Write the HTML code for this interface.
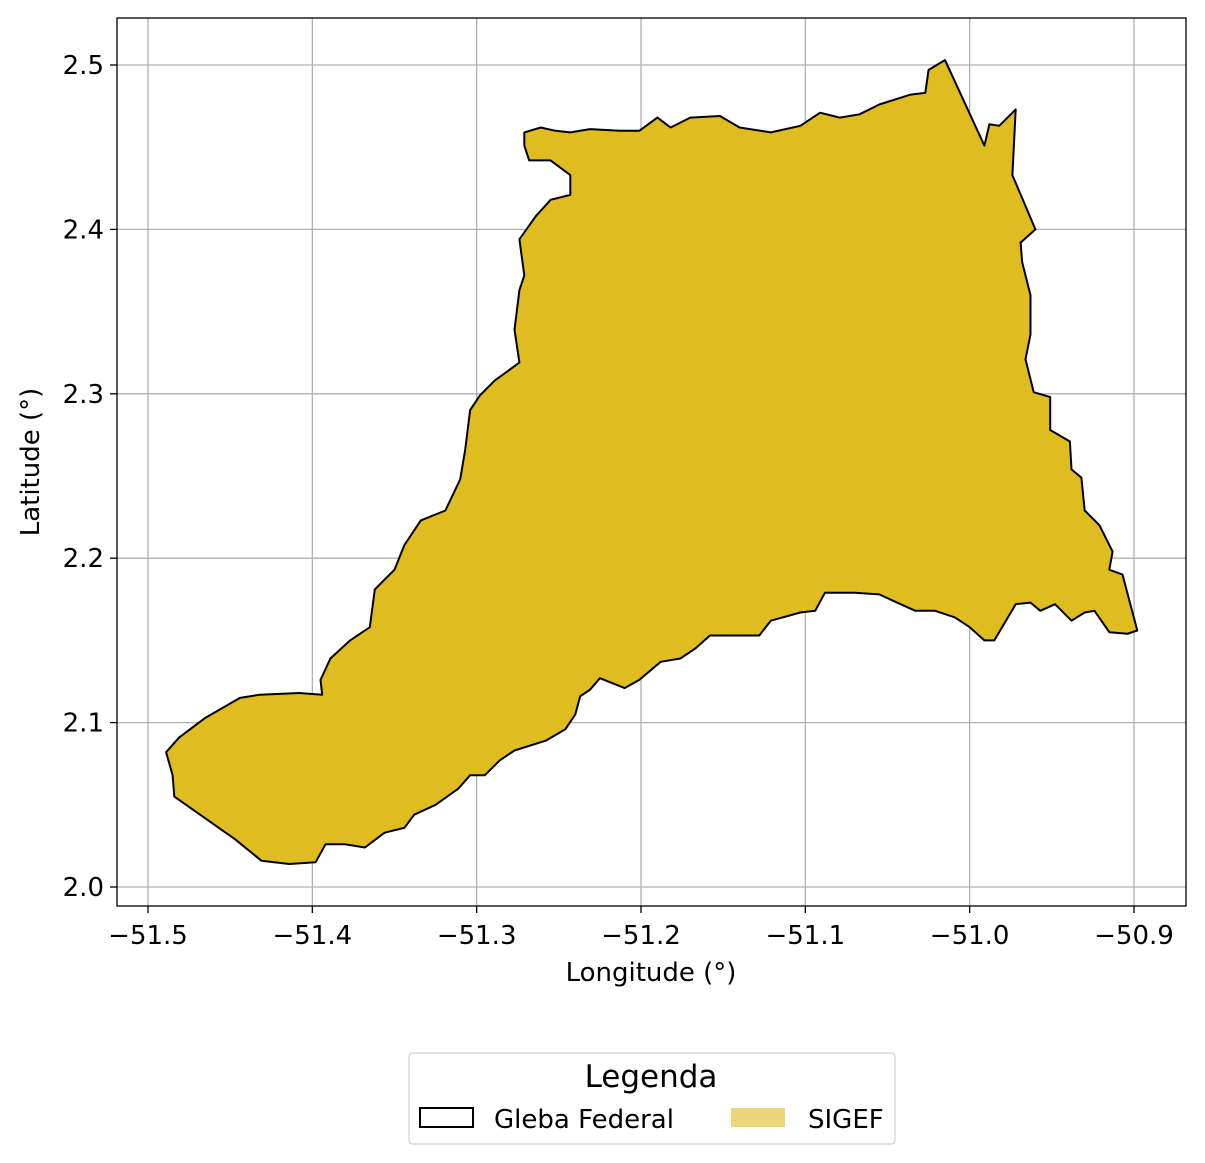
<!DOCTYPE html>
<html><head><meta charset="utf-8"><style>
html,body{margin:0;padding:0;background:#fff;}
svg{display:block;font-family:"DejaVu Sans","Liberation Sans",sans-serif;}
</style></head><body>
<svg id="chart" width="1205" height="1163" viewBox="0 0 1205 1163">
<g id="grid"></g>
<g id="shape"></g>
<rect x="117" y="18" width="1069" height="888" fill="none" stroke="#000" stroke-width="1.3"/>
<g id="xticks"></g>
<g id="yticks"></g>
<text x="651" y="981" font-size="26" text-anchor="middle">Longitude (°)</text>
<text x="39" y="462" font-size="26" text-anchor="middle" transform="rotate(-90 39 462)">Latitude (°)</text>
<g>
<rect x="409" y="1053" width="486" height="91" rx="4" fill="#fff" stroke="#d8d8d8" stroke-width="1.5"/>
<text x="651" y="1087" font-size="31" text-anchor="middle">Legenda</text>
<rect x="420" y="1108" width="53" height="19" fill="none" stroke="#000" stroke-width="2"/>
<text x="494" y="1128" font-size="26">Gleba Federal</text>
<rect x="731" y="1108" width="54" height="19" fill="#ebd679"/>
<text x="808" y="1128" font-size="26">SIGEF</text>
</g>
</svg>
<script>
const xTicks = [-51.5,-51.4,-51.3,-51.2,-51.1,-51.0,-50.9];
const xTickLabels = ["\u221251.5","\u221251.4","\u221251.3","\u221251.2","\u221251.1","\u221251.0","\u221250.9"];
const yTicks = [2.0,2.1,2.2,2.3,2.4,2.5];
const yTickLabels = ["2.0","2.1","2.2","2.3","2.4","2.5"];
const lons = [-51.271,-51.261,-51.252,-51.243,-51.231,-51.213,-51.201,-51.190,-51.182,-51.170,-51.152,-51.140,-51.121,-51.103,-51.091,-51.079,-51.067,-51.055,-51.036,-51.027,-51.025,-51.015,-50.991,-50.988,-50.982,-50.972,-50.974,-50.960,-50.969,-50.968,-50.963,-50.963,-50.966,-50.961,-50.951,-50.951,-50.939,-50.938,-50.932,-50.930,-50.921,-50.913,-50.915,-50.907,-50.898,-50.904,-50.915,-50.924,-50.930,-50.938,-50.948,-50.957,-50.963,-50.972,-50.985,-50.991,-51.000,-51.009,-51.021,-51.033,-51.042,-51.055,-51.070,-51.088,-51.094,-51.103,-51.121,-51.128,-51.140,-51.158,-51.167,-51.176,-51.188,-51.201,-51.210,-51.225,-51.231,-51.237,-51.240,-51.246,-51.258,-51.277,-51.286,-51.295,-51.304,-51.311,-51.325,-51.338,-51.344,-51.356,-51.368,-51.380,-51.392,-51.398,-51.414,-51.431,-51.447,-51.484,-51.485,-51.489,-51.481,-51.465,-51.444,-51.432,-51.408,-51.394,-51.395,-51.389,-51.377,-51.365,-51.362,-51.350,-51.344,-51.334,-51.319,-51.310,-51.307,-51.304,-51.298,-51.289,-51.274,-51.277,-51.274,-51.271,-51.274,-51.264,-51.255,-51.243,-51.243,-51.255,-51.268,-51.271];
const lats = [2.459,2.462,2.460,2.459,2.461,2.460,2.460,2.468,2.462,2.468,2.469,2.462,2.459,2.463,2.471,2.468,2.470,2.476,2.482,2.483,2.497,2.503,2.451,2.464,2.463,2.473,2.433,2.400,2.392,2.380,2.360,2.336,2.321,2.301,2.298,2.278,2.271,2.254,2.249,2.229,2.220,2.204,2.193,2.190,2.156,2.154,2.155,2.168,2.167,2.162,2.172,2.168,2.173,2.172,2.150,2.150,2.158,2.164,2.168,2.168,2.172,2.178,2.179,2.179,2.168,2.167,2.162,2.153,2.153,2.153,2.145,2.139,2.137,2.126,2.121,2.127,2.120,2.116,2.105,2.096,2.089,2.083,2.077,2.068,2.068,2.060,2.050,2.044,2.036,2.033,2.024,2.026,2.026,2.015,2.014,2.016,2.029,2.055,2.068,2.082,2.091,2.103,2.115,2.117,2.118,2.117,2.126,2.139,2.150,2.158,2.181,2.193,2.208,2.223,2.229,2.248,2.266,2.290,2.299,2.308,2.319,2.339,2.363,2.372,2.394,2.408,2.418,2.421,2.433,2.442,2.442,2.451];
const NS='http://www.w3.org/2000/svg';
function xs(v){return 148+(v+51.5)/0.1*164.33;}
function ys(v){return 887-(v-2.0)/0.1*164.4;}
const grid=document.getElementById('grid'),xg=document.getElementById('xticks'),yg=document.getElementById('yticks');
xTicks.forEach((t,i)=>{
  const x=xs(t);
  const l=document.createElementNS(NS,'line');
  l.setAttribute('x1',x);l.setAttribute('x2',x);l.setAttribute('y1',18);l.setAttribute('y2',906);
  l.setAttribute('stroke','#b0b0b0');l.setAttribute('stroke-width','1.3');
  
  
  grid.appendChild(l);
  const tk=document.createElementNS(NS,'line');
  tk.setAttribute('x1',x);tk.setAttribute('x2',x);tk.setAttribute('y1',906);tk.setAttribute('y2',913);
  tk.setAttribute('stroke','#000');tk.setAttribute('stroke-width','1.3');
  
  
  xg.appendChild(tk);
  const tx=document.createElementNS(NS,'text');
  tx.setAttribute('x',x);tx.setAttribute('y',944);tx.setAttribute('font-size','26');tx.setAttribute('text-anchor','middle');
  tx.textContent=xTickLabels[i];
  
  
  xg.appendChild(tx);
});
yTicks.forEach((t,i)=>{
  const y=ys(t);
  const l=document.createElementNS(NS,'line');
  l.setAttribute('x1',117);l.setAttribute('x2',1186);l.setAttribute('y1',y);l.setAttribute('y2',y);
  l.setAttribute('stroke','#b0b0b0');l.setAttribute('stroke-width','1.3');
  
  
  grid.appendChild(l);
  const tk=document.createElementNS(NS,'line');
  tk.setAttribute('x1',110);tk.setAttribute('x2',117);tk.setAttribute('y1',y);tk.setAttribute('y2',y);
  tk.setAttribute('stroke','#000');tk.setAttribute('stroke-width','1.3');
  
  
  yg.appendChild(tk);
  const tx=document.createElementNS(NS,'text');
  tx.setAttribute('x',104);tx.setAttribute('y',y+9);tx.setAttribute('font-size','26');tx.setAttribute('text-anchor','end');
  tx.textContent=yTickLabels[i];
  
  
  yg.appendChild(tx);
});
const pts=lons.map((v,i)=>xs(v).toFixed(1)+','+ys(lats[i]).toFixed(1)).join(' ');
const poly=document.createElementNS(NS,'polygon');
poly.setAttribute('points',pts);
poly.setAttribute('fill','#dfbc20');poly.setAttribute('stroke','#000');poly.setAttribute('stroke-width','2');poly.setAttribute('stroke-linejoin','round');


document.getElementById('shape').appendChild(poly);
</script>
</body></html>
